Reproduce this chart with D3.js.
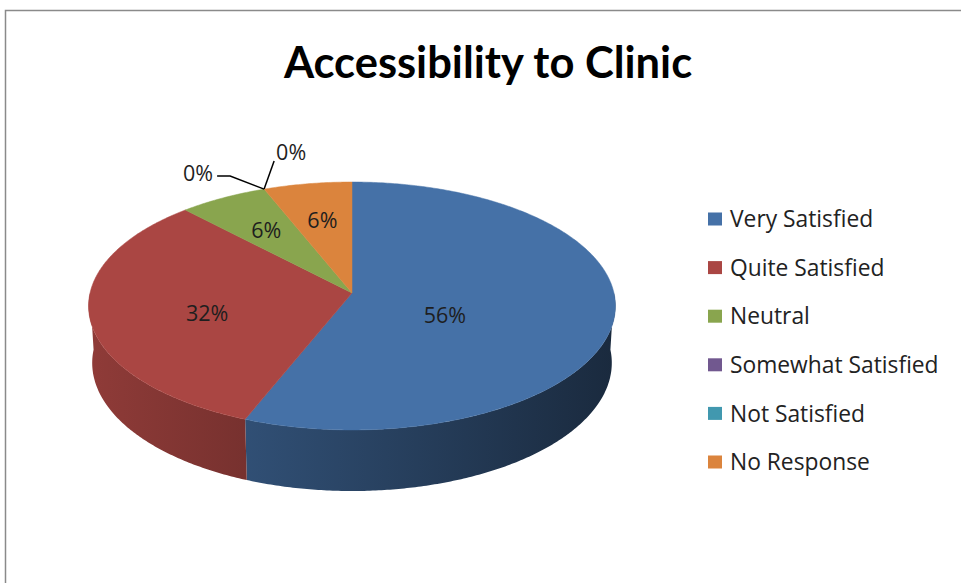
<!DOCTYPE html>
<html>
<head>
<meta charset="utf-8">
<style>
    body { margin: 0; background: #fff; }
    svg { display: block; font-family: 'Open Sans', Lato, sans-serif; }
</style>
</head>
<body>
<svg width="961" height="583"></svg>
<script src="https://d3js.org/d3.v7.min.js"></script>
<script>
    // chart data
    const categories = ["Very Satisfied", "Quite Satisfied", "Neutral", "Somewhat Satisfied", "Not Satisfied", "No Response"];
    const values = [56, 32, 6, 0, 0, 6];
    const labels = values.map(v => v + "%");
    const title = "Accessibility to Clinic";

    const colors = ["#4571a7", "#aa4643", "#89a54e", "#71588f", "#4198af", "#db843d"];

    let svg = d3.select("svg");
    let defs = svg.append("defs");

    // frame of the chart area
    svg.append("path")
        .attr("d", "M5.5,600 L5.5,10.5 L980,10.5")
        .attr("fill", "none")
        .attr("stroke", "#8a8a8a")
        .attr("stroke-width", 1.5);

    svg.append("text")
        .attr("x", 488)
        .attr("y", 78)
        .attr("text-anchor", "middle")
        .style("font-family", "Lato, sans-serif")
        .style("font-size", "43.5px")
        .style("font-weight", "bold")
        .attr("fill", "#000")
        .text(title);

    // simple perspective projection of a tilted disc
    let cx = 352, cy = 293;
    let sinA = 0.468, cosA = Math.sqrt(1 - sinA * sinA);
    let D = 8.44, F = 2211, depth = 0.248;

    function proj(theta, r, y) {
        let X = r * Math.sin(theta), Z = r * Math.cos(theta);
        let v = y * cosA + Z * sinA;
        let w = Z * cosA - y * sinA;
        let s = F / (D + w);
        return [cx + X * s, cy - v * s];
    }

    let pie = d3.pie().sort(null).value(d => d)(values);

    function arcPoints(a, b, y) {
        let n = Math.max(2, Math.ceil(Math.abs(b - a) / 0.01));
        return d3.range(n + 1).map(i => proj(a + (b - a) * i / n, 1, y));
    }

    let line = d3.line();
    let left = proj(-Math.PI / 2, 1, 0)[0], right = proj(Math.PI / 2, 1, 0)[0];

    // side walls (front half only), shaded left to right
    let sides = svg.append("g");
    pie.forEach((d, i) => {
        let a = Math.max(d.startAngle, Math.PI / 2);
        let b = Math.min(d.endAngle, Math.PI * 1.5);
        if (b <= a) return;
        let base = d3.rgb(colors[i]);
        let shade = f => d3.rgb(base.r * f, base.g * f, base.b * f).formatHex();
        let g = defs.append("linearGradient")
            .attr("id", "side" + i)
            .attr("gradientUnits", "userSpaceOnUse")
            .attr("x1", left).attr("x2", right)
            .attr("y1", 0).attr("y2", 0);
        g.append("stop").attr("offset", 0).attr("stop-color", shade(0.84));
        g.append("stop").attr("offset", 1).attr("stop-color", shade(0.37));
        let pts = arcPoints(a, b, 0).concat(arcPoints(b, a, -depth));
        sides.append("path")
            .attr("d", line(pts) + "Z")
            .attr("fill", "url(#side" + i + ")");
    });

    // top faces
    let hub = proj(0, 0, 0);
    let topPts = d => [hub].concat(arcPoints(d.startAngle, d.endAngle, 0));
    svg.append("g")
        .selectAll("path")
        .data(pie.filter(d => d.value > 0))
        .join("path")
        .attr("d", d => line(topPts(d)) + "Z")
        .attr("fill", d => colors[d.index])
        .attr("stroke", d => colors[d.index])
        .attr("stroke-width", 0.5);

    // labels inside the slices, at the centroid of the drawn top face
    svg.append("g")
        .selectAll("text")
        .data(pie.filter(d => d.value > 0))
        .join("text")
        .attr("transform", d => "translate(" + d3.polygonCentroid(topPts(d)) + ")")
        .attr("text-anchor", "middle")
        .attr("dy", "0.36em")
        .style("font-size", "21.5px")
        .attr("fill", "#1e1e1e")
        .text(d => labels[d.index]);

    // zero slices get outside labels with leader lines
    let zeros = pie.filter(d => d.value === 0);
    let leaders = [
        { dx: -34, dy: -13, ex: -13, anchor: "end", tx: -4, ty: -3 },
        { dx: 10, dy: -28, ex: 0, anchor: "start", tx: 2, ty: -9 }
    ];
    zeros.forEach((d, k) => {
        let o = leaders[k % leaders.length];
        let p0 = proj(d.startAngle, 1, 0);
        let p1 = [p0[0] + o.dx, p0[1] + o.dy];
        let p2 = [p1[0] + o.ex, p1[1]];
        svg.append("path")
            .attr("d", line([p0, p1, p2]))
            .attr("fill", "none")
            .attr("stroke", "#000")
            .attr("stroke-width", 1.5);
        svg.append("text")
            .attr("x", p2[0] + o.tx)
            .attr("y", p2[1] + o.ty)
            .attr("dy", "0.36em")
            .attr("text-anchor", o.anchor)
            .style("font-size", "21.5px")
            .attr("fill", "#1e1e1e")
            .text(labels[d.index]);
    });

    // legend
    let legend = svg.append("g")
        .selectAll("g")
        .data(categories)
        .join("g")
        .attr("transform", (d, i) => "translate(708," + (219 + i * 48.6) + ")");

    legend.append("rect")
        .attr("x", 0)
        .attr("y", -6.5)
        .attr("width", 14)
        .attr("height", 13)
        .attr("fill", (d, i) => colors[i]);

    legend.append("text")
        .attr("x", 22)
        .attr("dy", "0.36em")
        .style("font-size", "22.8px")
        .attr("fill", "#222")
        .text(d => d);
</script>
</body>
</html>
